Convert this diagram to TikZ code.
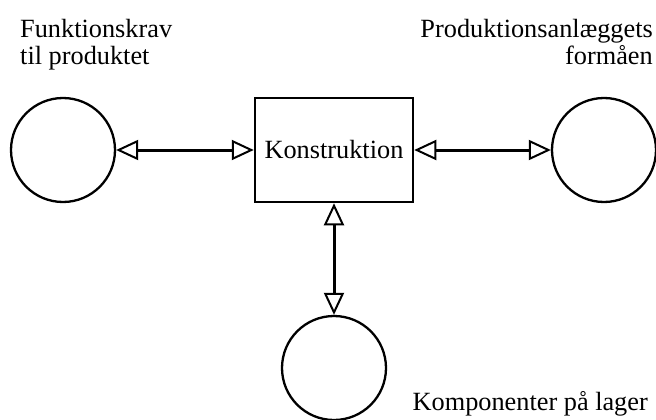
\documentclass[tikz,border=0pt]{standalone}
\usepackage{fontspec}
\setmainfont{Liberation Serif}
\usetikzlibrary{arrows.meta}
\begin{document}
\begin{tikzpicture}[x=1pt,y=-1pt,
  lbl/.style={font=\fontsize{26.3}{28}\selectfont, inner sep=0pt},
  hub/.style={draw, line width=2.5pt, minimum width=158pt, minimum height=104pt,
    inner sep=0pt, font=\fontsize{26.3}{28}\selectfont},
  pool/.style={draw, circle, line width=2.3pt, minimum size=104pt, inner sep=0pt},
  link/.style={line width=3pt,
    {Triangle[open, length=22pt, width=20pt, line width=2pt]}-{Triangle[open, length=22pt, width=20pt, line width=2pt]}}]
  \useasboundingbox (0,0) rectangle (656,420);

  % central block and the three sources around it
  \node[hub] (K) at (334,150) {Konstruktion};
  \node[pool] (F) at (63,150) {};
  \node[pool] (P) at (604,150) {};
  \node[pool] (C) at (334,368) {};

  % two-way links
  \draw[link] (F) -- (K);
  \draw[link] (K) -- (P);
  \draw[link] (K) -- (C);

  % captions (base anchor sits on the last line)
  \node[lbl, anchor=base west, align=left] (tF) at (20,65) {Funktionskrav\\til produktet};
  \node[lbl, anchor=base east, align=right] (tP) at (653,65) {Produktionsanlæggets\\formåen};
  \node[lbl, anchor=base east] (tC) at (648,410) {Komponenter på lager};
\end{tikzpicture}
\end{document}
